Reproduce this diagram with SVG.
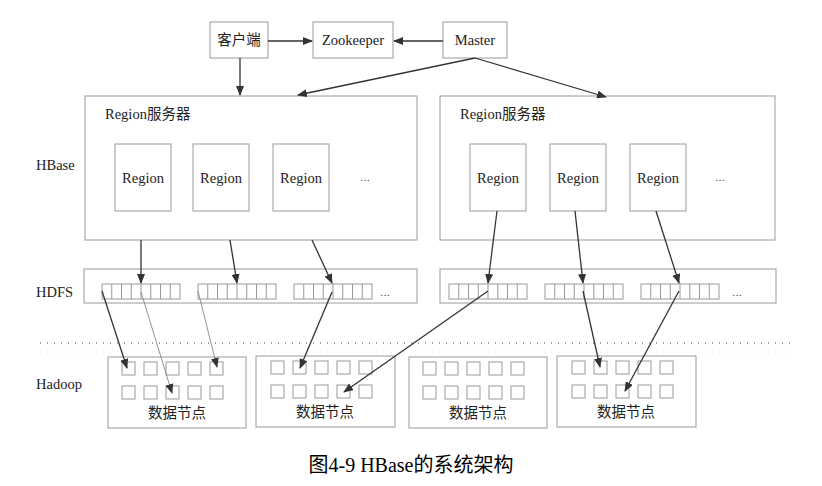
<svg xmlns="http://www.w3.org/2000/svg" width="822" height="486" viewBox="0 0 822 486">
<defs>
<marker id="ah" markerWidth="10" markerHeight="8" refX="9" refY="4" orient="auto" markerUnits="userSpaceOnUse"><path d="M0,0 L10,4 L0,8 z" fill="#333"/></marker>
<g id="cells"><rect x="0" y="0" width="78" height="15" fill="#fff" stroke="#999"/><path d="M9.75,0v15M19.5,0v15M29.25,0v15M39,0v15M48.75,0v15M58.5,0v15M68.25,0v15" stroke="#999"/></g>
<g id="sq" fill="#fff" stroke="#999"><rect x="0" y="0" width="13" height="13"/><rect x="22" y="0" width="13" height="13"/><rect x="44" y="0" width="13" height="13"/><rect x="66" y="0" width="13" height="13"/><rect x="88" y="0" width="13" height="13"/><rect x="0" y="24" width="13" height="13"/><rect x="22" y="24" width="13" height="13"/><rect x="44" y="24" width="13" height="13"/><rect x="66" y="24" width="13" height="13"/><rect x="88" y="24" width="13" height="13"/></g>
</defs>
<style>
text{font-family:"Liberation Serif","Noto Sans CJK SC",serif;font-size:14.5px;fill:#222}
.b{fill:#fff;stroke:#999;stroke-width:1}
.c{text-anchor:middle}
.a{stroke:#333;stroke-width:1.3;fill:none;marker-end:url(#ah)}
.t{stroke:#777;stroke-width:0.8;fill:none;marker-end:url(#ah)}
</style>
<rect width="822" height="486" fill="#fff"/>
<text x="36" y="170">HBase</text>
<text x="36" y="297">HDFS</text>
<text x="36" y="389">Hadoop</text>
<g id="client"><rect class="b" x="210" y="22" width="58" height="36"/><text class="c" x="239" y="45">客户端</text></g>
<g id="zookeeper"><rect class="b" x="313" y="22" width="80" height="36"/><text class="c" x="353" y="45">Zookeeper</text></g>
<g id="master"><rect class="b" x="443" y="22" width="64" height="36"/><text class="c" x="475" y="45">Master</text></g>
<g id="rs1"><rect class="b" x="85" y="96" width="332" height="144"/><text x="105" y="119">Region服务器</text>
<rect class="b" x="115" y="144" width="56" height="67"/><text class="c" x="143" y="183">Region</text>
<rect class="b" x="193" y="144" width="56" height="67"/><text class="c" x="221" y="183">Region</text>
<rect class="b" x="273" y="144" width="56" height="67"/><text class="c" x="301" y="183">Region</text>
<text x="360" y="181" style="font-size:10px">…</text></g>
<g id="rs2"><rect class="b" x="440" y="96" width="335" height="144"/><text x="460" y="119">Region服务器</text>
<rect class="b" x="470" y="144" width="56" height="67"/><text class="c" x="498" y="183">Region</text>
<rect class="b" x="550" y="144" width="56" height="67"/><text class="c" x="578" y="183">Region</text>
<rect class="b" x="630" y="144" width="56" height="67"/><text class="c" x="658" y="183">Region</text>
<text x="715" y="181" style="font-size:10px">…</text></g>
<g id="hdfs1"><rect class="b" x="84" y="269" width="333" height="34"/>
<use href="#cells" x="102" y="284"/><use href="#cells" x="198" y="284"/><use href="#cells" x="294" y="284"/><text x="380" y="296" style="font-size:10px">…</text></g>
<g id="hdfs2"><rect class="b" x="440" y="269" width="336" height="34"/>
<use href="#cells" x="449" y="284"/><use href="#cells" x="545" y="284"/><use href="#cells" x="641" y="284"/><text x="732" y="296" style="font-size:10px">…</text></g>
<line x1="40" y1="343" x2="790" y2="343" stroke="#444" stroke-width="1" stroke-dasharray="1 6"/>
<line x1="40" y1="352" x2="790" y2="352" stroke="#ddd" stroke-width="1" stroke-dasharray="1 6"/>
<g id="dn1"><rect class="b" x="108" y="357" width="138" height="71"/><use href="#sq" x="122" y="362"/><text class="c" x="177" y="418">数据节点</text></g>
<g id="dn2"><rect class="b" x="256" y="356" width="139" height="71"/><use href="#sq" x="271" y="361"/><text class="c" x="325" y="417">数据节点</text></g>
<g id="dn3"><rect class="b" x="409" y="357" width="138" height="71"/><use href="#sq" x="423" y="362"/><text class="c" x="478" y="418">数据节点</text></g>
<g id="dn4"><rect class="b" x="557" y="356" width="139" height="71"/><use href="#sq" x="572" y="361"/><text class="c" x="626" y="417">数据节点</text></g>
<g id="connectors">
<line class="a" x1="268" y1="41" x2="312" y2="41"/>
<line class="a" x1="443" y1="41" x2="394" y2="41"/>
<line class="a" x1="240" y1="58" x2="240" y2="95"/>
<line class="a" x1="475" y1="58" x2="298" y2="95"/>
<line class="a" x1="475" y1="58" x2="606" y2="97"/>
<line class="a" x1="141" y1="240" x2="141" y2="283"/>
<line class="a" x1="230" y1="240" x2="237" y2="283"/>
<line class="a" x1="312" y1="240" x2="332" y2="283"/>
<line class="a" x1="497" y1="211" x2="488" y2="283"/>
<line class="a" x1="575" y1="211" x2="583" y2="283"/>
<line class="a" x1="656" y1="211" x2="679" y2="283"/>
<line class="a" x1="102" y1="291" x2="127" y2="368"/>
<line class="t" x1="141" y1="292" x2="172" y2="393"/>
<line class="t" x1="198" y1="291" x2="217" y2="367"/>
<line class="a" x1="332" y1="292" x2="300" y2="368"/>
<line class="a" x1="488" y1="291" x2="344" y2="392"/>
<line class="a" x1="583" y1="291" x2="600" y2="367"/>
<line class="a" x1="679" y1="291" x2="625" y2="391"/>
</g>
<text class="c" x="411" y="472" style="font-size:20px;fill:#000">图4-9 HBase的系统架构</text>
</svg>
